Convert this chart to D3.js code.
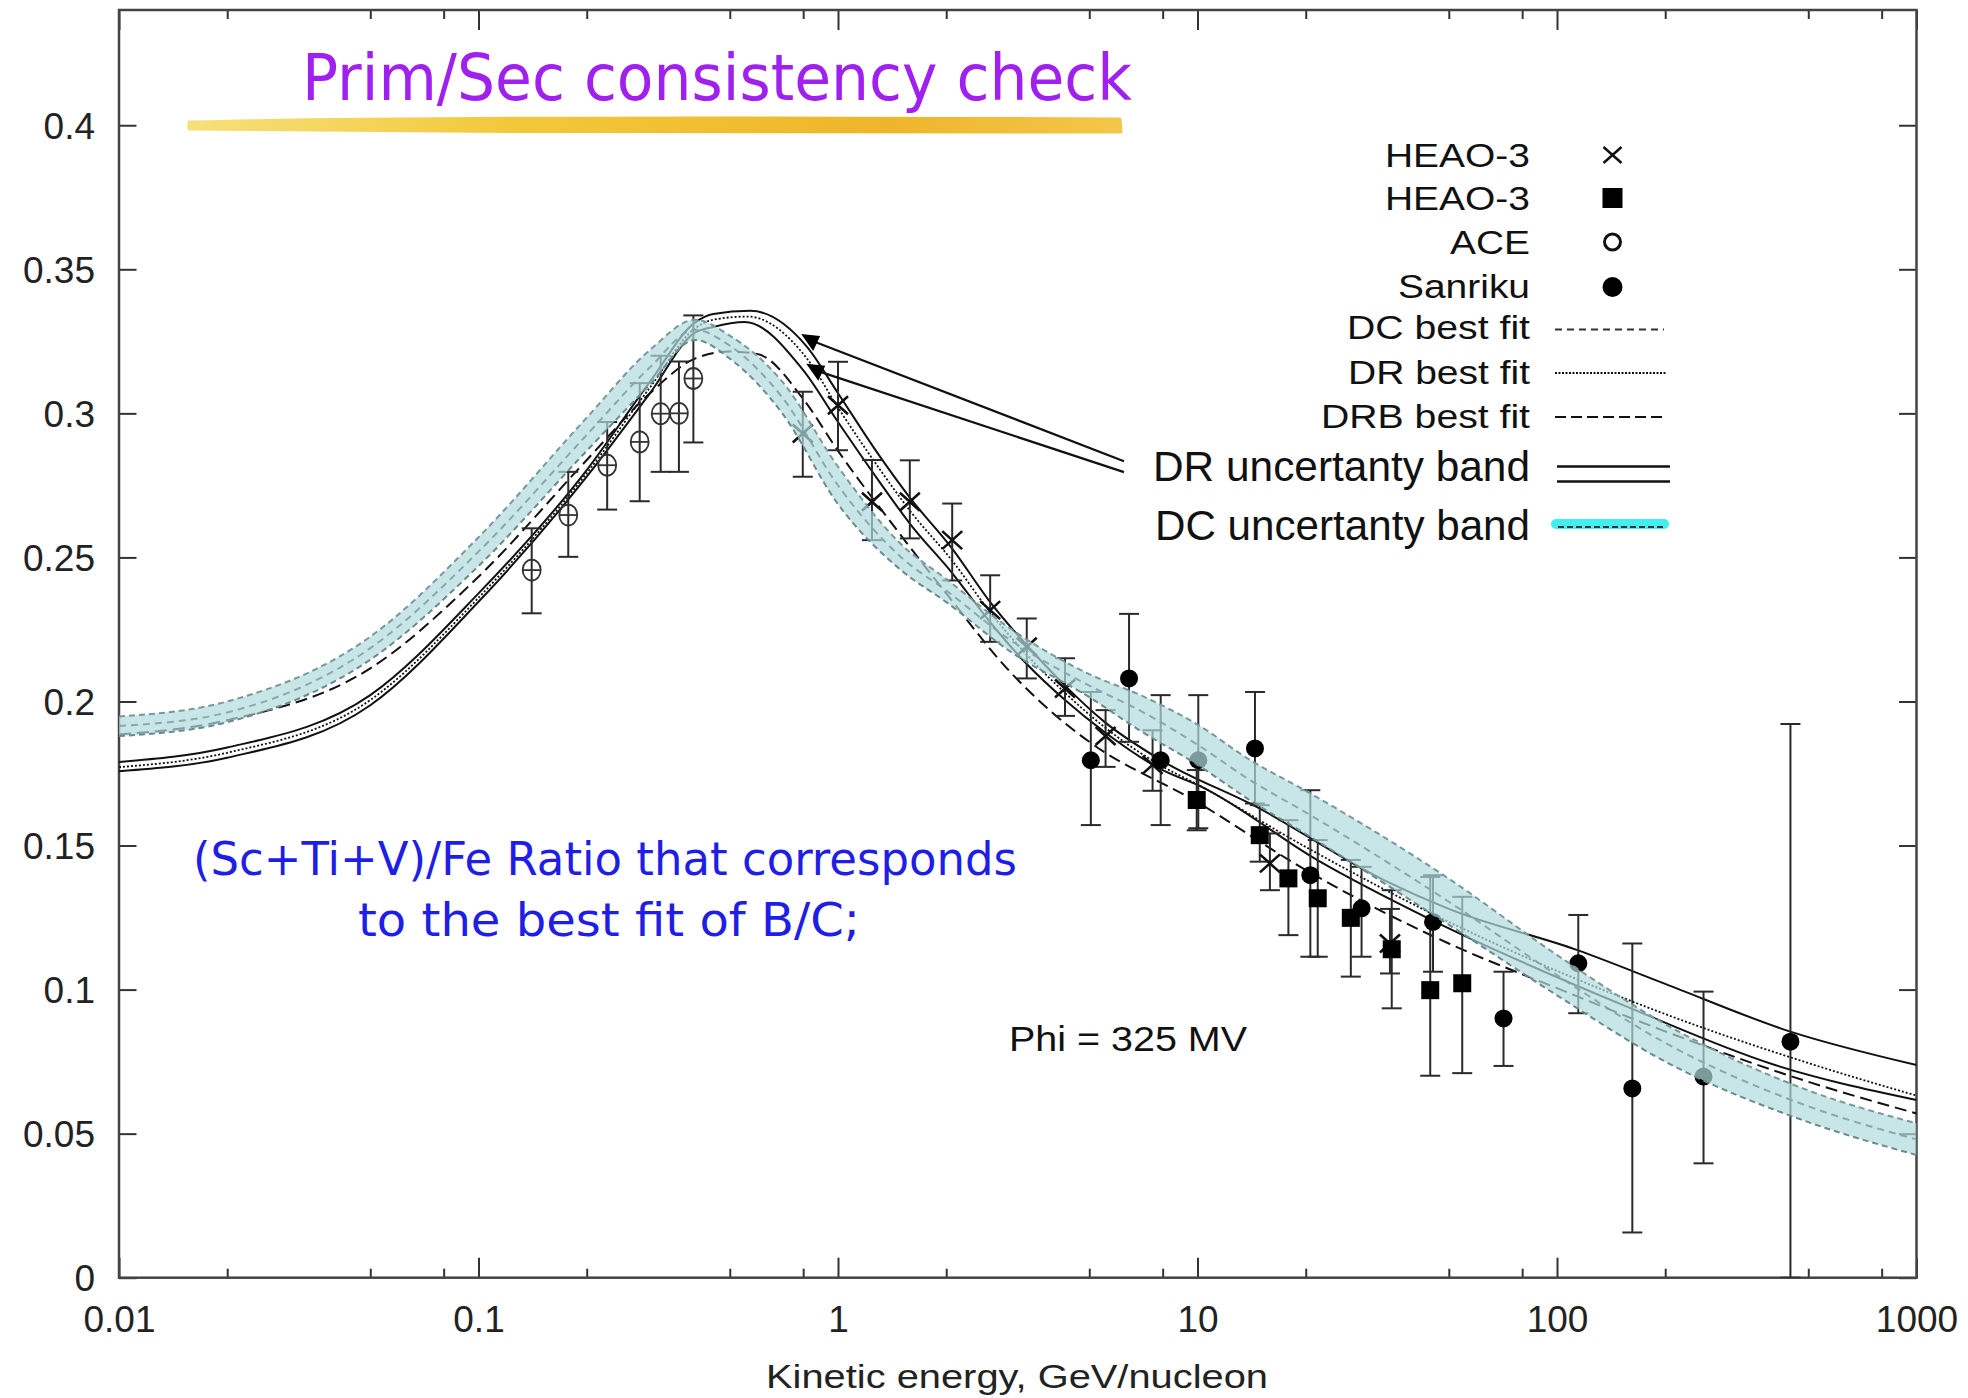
<!DOCTYPE html>
<html>
<head>
<meta charset="utf-8">
<script src="https://cdn.jsdelivr.net/npm/d3@7"></script>
<style>
body{margin:0;background:#fff;}
svg text{font-family:"Liberation Sans",Arial,Helvetica,sans-serif;}
</style>
</head>
<body>
<div></div>
<script>
// ticks
let xMajor = [0.01, 0.1, 1, 10, 100, 1000];
let xMinor = [0.02, 0.05, 0.08, 0.2, 0.5, 0.8, 2, 5, 8, 20, 50, 80, 200, 500, 800];
let yMajor = [0, 0.05, 0.1, 0.15, 0.2, 0.25, 0.3, 0.35, 0.4];

// measurements: [E, ratio, low, high]
let heaoCross = [
  [0.798, 0.293, 0.278, 0.3075], [1.0, 0.3028, 0.2872, 0.3179], [1.243, 0.2693, 0.256, 0.2838],
  [1.584, 0.2693, 0.2566, 0.2837], [2.078, 0.256, 0.242, 0.2687], [2.65, 0.2317, 0.2207, 0.2438],
  [3.35, 0.219, 0.208, 0.2288], [4.28, 0.2045, 0.195, 0.215], [5.55, 0.1880, 0.1773, 0.197],
  [7.5, 0.178, 0.169, 0.19], [15.9, 0.1438, 0.1345, 0.1542], [34.3, 0.116, 0.1056, 0.128]
];
let heaoSquare = [
  [9.95, 0.1658, 0.1553, 0.1762], [14.9, 0.1536, 0.1444, 0.164], [17.9, 0.1386, 0.1189, 0.1588],
  [21.6, 0.1317, 0.1114, 0.1519], [26.7, 0.1249, 0.1045, 0.145], [34.7, 0.114, 0.0935, 0.1345],
  [44.4, 0.0998, 0.0701, 0.1391], [54.5, 0.1022, 0.071, 0.1322]
];
let ace = [
  [0.1406, 0.2456, 0.2306, 0.2601], [0.1777, 0.2647, 0.2502, 0.2797], [0.228, 0.282, 0.2666, 0.297],
  [0.2808, 0.2901, 0.2695, 0.3105], [0.3212, 0.2999, 0.2797, 0.32], [0.361, 0.300, 0.2797, 0.318],
  [0.396, 0.3121, 0.2899, 0.334]
];
let sanriku = [
  [5.05, 0.1796, 0.1571, 0.2033], [6.45, 0.208, 0.186, 0.2304], [7.9, 0.1796, 0.1571, 0.2022],
  [10.05, 0.1796, 0.156, 0.2022], [14.45, 0.1837, 0.1646, 0.2033], [20.6, 0.1397, 0.1114, 0.1692],
  [28.6, 0.1282, 0.1114, 0.1426], [45.2, 0.1235, 0.1062, 0.1397], [71, 0.090, 0.0735, 0.1062],
  [114.6, 0.1091, 0.0918, 0.1259], [162, 0.0657, 0.0157, 0.116], [255.6, 0.0698, 0.0397, 0.0993],
  [446, 0.0819, 0, 0.1922]
];

// model curves: [E, ratio]
let drUpper = [
  [0.01, 0.179], [0.02, 0.184], [0.05, 0.2022], [0.1, 0.2375], [0.2, 0.2803], [0.3, 0.311],
  [0.4, 0.3315], [0.45, 0.3345], [0.57, 0.3356], [0.82, 0.3231], [1.0, 0.307], [1.3, 0.2855],
  [1.59, 0.2705], [2.08, 0.253], [2.65, 0.2345], [3.35, 0.2195], [4.28, 0.2055], [5.5, 0.193],
  [7.9, 0.1797], [14.6, 0.1634], [33, 0.138], [50, 0.128], [114, 0.1137], [200, 0.102],
  [446, 0.0854], [1000, 0.0738]
];
let drLower = [
  [0.01, 0.1758], [0.02, 0.1805], [0.05, 0.1987], [0.1, 0.2346], [0.2, 0.278], [0.3, 0.307],
  [0.4, 0.328], [0.45, 0.330], [0.55, 0.3317], [0.8, 0.315], [1.0, 0.297], [1.3, 0.2765],
  [1.59, 0.2615], [2.08, 0.2445], [2.65, 0.2275], [3.35, 0.213], [4.28, 0.2005], [5.5, 0.1895],
  [7.9, 0.1765], [10.3, 0.1703], [21.5, 0.145], [45, 0.124], [157, 0.094], [400, 0.074],
  [1000, 0.0617]
];
let drBest = [
  [0.01, 0.1772], [0.02, 0.1822], [0.05, 0.2005], [0.1, 0.236], [0.2, 0.2792], [0.3, 0.309],
  [0.4, 0.3295], [0.45, 0.3325], [0.56, 0.3336], [0.82, 0.319], [1.0, 0.302], [1.3, 0.281],
  [1.59, 0.266], [2.08, 0.2488], [2.65, 0.231], [3.35, 0.2162], [4.28, 0.203], [5.5, 0.1912],
  [7.9, 0.1778], [10, 0.1712], [20, 0.1495], [50, 0.1235], [100, 0.1065], [200, 0.0915],
  [500, 0.0745], [1000, 0.0632]
];
let drbBest = [
  [0.01, 0.1885], [0.02, 0.1935], [0.05, 0.2115], [0.1, 0.2433], [0.2, 0.2838], [0.3, 0.307],
  [0.4, 0.319], [0.5, 0.3215], [0.6, 0.3205], [0.8, 0.305], [1.0, 0.287], [1.5, 0.2575],
  [2, 0.2375], [3, 0.2105], [4, 0.1955], [5, 0.186], [10, 0.165], [20, 0.1415], [50, 0.116],
  [100, 0.1005], [200, 0.0855], [500, 0.068], [1000, 0.057]
];
let dcBest = [
  [0.01, 0.1915], [0.02, 0.1962], [0.05, 0.2185], [0.1, 0.252], [0.2, 0.2925], [0.3, 0.316],
  [0.4, 0.329], [0.5, 0.3235], [0.7, 0.3055], [1.0, 0.275], [1.5, 0.25], [2, 0.2385],
  [3, 0.2215], [5, 0.2055], [7, 0.1965], [10, 0.185], [14, 0.1727], [20, 0.1615], [50, 0.1305],
  [100, 0.105], [200, 0.0815], [500, 0.0595], [1000, 0.048]
];
// DC uncertainty band: [E, top, bottom]
let dcBand = [
  [0.01, 0.1948, 0.1880], [0.02, 0.2000, 0.1928], [0.05, 0.2225, 0.2145], [0.1, 0.2570, 0.2470],
  [0.2, 0.2985, 0.2870], [0.3, 0.3220, 0.3100], [0.4, 0.3325, 0.3255], [0.5, 0.3270, 0.3190],
  [0.7, 0.3110, 0.3000], [1.0, 0.2815, 0.2685], [1.5, 0.2545, 0.2455], [2, 0.2425, 0.2345],
  [3, 0.2255, 0.2175], [5, 0.2095, 0.2015], [7, 0.2020, 0.1895], [10, 0.1920, 0.1780],
  [14, 0.1797, 0.1657], [20, 0.1690, 0.1540], [50, 0.1385, 0.1225], [100, 0.1120, 0.0980],
  [200, 0.0880, 0.0750], [500, 0.0650, 0.0540], [1000, 0.0536, 0.0426]
];
// pointer from legend to the DR band: tips and ends [E, ratio]
let pointerTips = [[0.842, 0.3248], [0.87, 0.3144]];
let pointerEnds = [[6.245, 0.2834], [6.245, 0.2796]];

let W = 1968, H = 1398;
let plotLeft = 119, plotRight = 1916.5, plotTop = 10, plotBottom = 1277.7;

let svg = d3.select("body div").append("svg")
  .attr("width", W).attr("height", H)
  .style("display", "block");

svg.append("rect").attr("width", W).attr("height", H).attr("fill", "#fff");

let x = d3.scaleLog().domain([0.01, 1000]).range([plotLeft, plotRight]);
let y = d3.scaleLinear().domain([0, 0.44]).range([plotBottom, plotTop]);

svg.append("clipPath").attr("id", "plot")
  .append("rect").attr("x", plotLeft).attr("y", plotTop)
  .attr("width", plotRight - plotLeft).attr("height", plotBottom - plotTop);

// axes
function styleAxis(g) {
  g.select(".domain").remove();
  g.attr("color", "#333").attr("font-family", "Liberation Sans, Arial, sans-serif").attr("font-size", 37);
  g.selectAll(".tick line").attr("stroke-width", 2);
  g.selectAll(".tick text").attr("fill", "#222");
}
svg.append("g").attr("transform", `translate(0,${plotBottom})`)
  .call(d3.axisBottom(x).tickValues(xMajor).tickSize(-20).tickFormat(d3.format("~g")))
  .call(styleAxis)
  .call(g => g.selectAll("text").attr("y", 54).attr("dy", null));
svg.append("g").attr("transform", `translate(0,${plotBottom})`)
  .call(d3.axisBottom(x).tickValues(xMinor).tickSize(-9).tickFormat(""))
  .call(styleAxis);
svg.append("g").attr("transform", `translate(0,${plotTop})`)
  .call(d3.axisTop(x).tickValues(xMajor).tickSize(-20).tickFormat(""))
  .call(styleAxis);
svg.append("g").attr("transform", `translate(0,${plotTop})`)
  .call(d3.axisTop(x).tickValues(xMinor).tickSize(-9).tickFormat(""))
  .call(styleAxis);
svg.append("g").attr("transform", `translate(${plotLeft},0)`)
  .call(d3.axisLeft(y).tickValues(yMajor).tickSize(-17.5).tickFormat(d3.format("~g")))
  .call(styleAxis)
  .call(g => g.selectAll("text").attr("x", -24).attr("dy", "0.35em"));
svg.append("g").attr("transform", `translate(${plotRight},0)`)
  .call(d3.axisRight(y).tickValues(yMajor).tickSize(-17.5).tickFormat(""))
  .call(styleAxis);

svg.append("rect")
  .attr("x", plotLeft).attr("y", plotTop).attr("width", plotRight - plotLeft).attr("height", plotBottom - plotTop)
  .attr("fill", "none").attr("stroke", "#444").attr("stroke-width", 2.5);

// model curves
let plot = svg.append("g").attr("clip-path", "url(#plot)");
let line = d3.line().x(d => x(d[0])).y(d => y(d[1])).curve(d3.curveMonotoneX);

plot.append("path").datum(dcBest).attr("d", line)
  .attr("fill", "none").attr("stroke", "#333").attr("stroke-width", 2).attr("stroke-dasharray", "7,5");
plot.append("path").datum(drbBest).attr("d", line)
  .attr("fill", "none").attr("stroke", "#111").attr("stroke-width", 2).attr("stroke-dasharray", "12,6");
plot.append("path").datum(drBest).attr("d", line)
  .attr("fill", "none").attr("stroke", "#111").attr("stroke-width", 1.8).attr("stroke-dasharray", "2,2");
[drUpper, drLower].forEach(c => {
  plot.append("path").datum(c).attr("d", line)
    .attr("fill", "none").attr("stroke", "#111").attr("stroke-width", 2);
});

// error bars
let bars = plot.append("g").attr("stroke", "#2a2a2a").attr("stroke-width", 2);
function errorBars(data) {
  data.forEach(d => {
    let cx = x(d[0]);
    bars.append("line").attr("x1", cx).attr("x2", cx).attr("y1", y(d[2])).attr("y2", y(d[3]));
    bars.append("line").attr("x1", cx - 10).attr("x2", cx + 10).attr("y1", y(d[2])).attr("y2", y(d[2]));
    bars.append("line").attr("x1", cx - 10).attr("x2", cx + 10).attr("y1", y(d[3])).attr("y2", y(d[3]));
  });
}
errorBars(ace);
errorBars(heaoCross);
errorBars(heaoSquare);
errorBars(sanriku);

let marks = plot.append("g");
ace.forEach(d => {
  marks.append("ellipse").attr("cx", x(d[0])).attr("cy", y(d[1])).attr("rx", 9).attr("ry", 10.5)
    .attr("fill", "none").attr("stroke", "#333").attr("stroke-width", 1.8);
  marks.append("line").attr("x1", x(d[0]) - 9).attr("x2", x(d[0]) + 9)
    .attr("y1", y(d[1])).attr("y2", y(d[1])).attr("stroke", "#333").attr("stroke-width", 1.8);
});
heaoCross.forEach(d => {
  marks.append("path").attr("transform", `translate(${x(d[0])},${y(d[1])})`)
    .attr("d", "M-10,-9L10,9M-10,9L10,-9").attr("stroke", "#111").attr("stroke-width", 2.6);
});
heaoSquare.forEach(d => {
  marks.append("rect").attr("x", x(d[0]) - 9).attr("y", y(d[1]) - 9).attr("width", 18).attr("height", 18)
    .attr("fill", "#000");
});
sanriku.forEach(d => {
  marks.append("circle").attr("cx", x(d[0])).attr("cy", y(d[1])).attr("r", 9).attr("fill", "#000");
});

// DC uncertainty band, translucent on top, with dashed edges
plot.append("path").datum(dcBand)
  .attr("d", d3.area().x(d => x(d[0])).y0(d => y(d[2])).y1(d => y(d[1])).curve(d3.curveMonotoneX))
  .attr("fill", "#b0dbde").attr("fill-opacity", 0.7);
plot.append("path").datum(dcBand.map(d => [d[0], d[1]])).attr("d", line)
  .attr("fill", "none").attr("stroke", "#7a989c").attr("stroke-width", 2).attr("stroke-dasharray", "6,4");
plot.append("path").datum(dcBand.map(d => [d[0], d[2]])).attr("d", line)
  .attr("fill", "none").attr("stroke", "#6c8a8e").attr("stroke-width", 2).attr("stroke-dasharray", "6,4");

// pointer to DR band
pointerTips.forEach((t, i) => {
  let e = pointerEnds[i];
  svg.append("line").attr("x1", x(t[0]) + 4).attr("y1", y(t[1]))
    .attr("x2", x(e[0])).attr("y2", y(e[1])).attr("stroke", "#111").attr("stroke-width", 2.2);
  svg.append("path").attr("transform", `translate(${x(t[0])},${y(t[1])})`)
    .attr("d", "M-10,-8L9,-6L2,9Z").attr("fill", "#000");
});

// legend
let legend = svg.append("g");
let legendX = 1530, symX = 1612.5;
function legendText(txt, baseline, size, len) {
  legend.append("text").attr("x", legendX).attr("y", baseline).attr("text-anchor", "end")
    .attr("font-size", size).attr("fill", "#111")
    .attr("textLength", len).attr("lengthAdjust", "spacingAndGlyphs").text(txt);
}
legendText("HEAO-3", 166.5, 32.5, 145);
legendText("HEAO-3", 210, 32.5, 145);
legendText("ACE", 254, 32.5, 80);
legendText("Sanriku", 298, 32.5, 132);
legendText("DC best fit", 339, 33, 183);
legendText("DR best fit", 384, 33, 182);
legendText("DRB best fit", 428, 33, 209);
legendText("DR uncertanty band", 481, 43, 377);
legendText("DC uncertanty band", 540, 43, 375);

legend.append("path").attr("transform", `translate(${symX},155)`)
  .attr("d", "M-9,-8L9,8M-9,8L9,-8").attr("stroke", "#111").attr("stroke-width", 2.5);
legend.append("rect").attr("x", symX - 10).attr("y", 188).attr("width", 20).attr("height", 20).attr("fill", "#000");
legend.append("circle").attr("cx", symX).attr("cy", 242).attr("r", 8).attr("fill", "#fff")
  .attr("stroke", "#111").attr("stroke-width", 3);
legend.append("circle").attr("cx", symX).attr("cy", 287).attr("r", 10).attr("fill", "#000");
legend.append("line").attr("x1", 1555).attr("x2", 1664).attr("y1", 329.5).attr("y2", 329.5)
  .attr("stroke", "#333").attr("stroke-width", 2).attr("stroke-dasharray", "7,5");
legend.append("line").attr("x1", 1555).attr("x2", 1666).attr("y1", 373).attr("y2", 373)
  .attr("stroke", "#111").attr("stroke-width", 1.8).attr("stroke-dasharray", "2,1.5");
legend.append("line").attr("x1", 1555).attr("x2", 1666).attr("y1", 417).attr("y2", 417)
  .attr("stroke", "#111").attr("stroke-width", 2).attr("stroke-dasharray", "11,5");
[466.5, 481.5].forEach(v => {
  legend.append("line").attr("x1", 1557).attr("x2", 1670).attr("y1", v).attr("y2", v)
    .attr("stroke", "#111").attr("stroke-width", 2.5);
});
legend.append("line").attr("x1", 1556).attr("x2", 1664).attr("y1", 524).attr("y2", 524)
  .attr("stroke", "#3ef0f0").attr("stroke-width", 10).attr("stroke-linecap", "round");
legend.append("line").attr("x1", 1558).attr("x2", 1664).attr("y1", 527).attr("y2", 527)
  .attr("stroke", "#333").attr("stroke-width", 2).attr("stroke-dasharray", "6,3");

// highlighter stroke and title
let grad = svg.append("defs").append("linearGradient").attr("id", "marker")
  .attr("gradientUnits", "userSpaceOnUse").attr("x1", 187).attr("x2", 1121).attr("y1", 0).attr("y2", 0);
grad.append("stop").attr("offset", "0%").attr("stop-color", "#f6e07a");
grad.append("stop").attr("offset", "35%").attr("stop-color", "#f2c83a");
grad.append("stop").attr("offset", "75%").attr("stop-color", "#efb52a");
grad.append("stop").attr("offset", "100%").attr("stop-color", "#f3c64a");
svg.append("path")
  .attr("d", "M189,122 C400,117 700,117 1120,119 L1121,132 C800,133 500,132 189,129 Z")
  .attr("fill", "url(#marker)").attr("stroke", "url(#marker)").attr("stroke-width", 3)
  .attr("stroke-linejoin", "round");

let comic = "'Comic Sans MS','DejaVu Sans',sans-serif";
svg.append("text").attr("x", 302).attr("y", 100)
  .style("font-family", comic).attr("font-size", 64).attr("fill", "#a020f0")
  .attr("textLength", 830).attr("lengthAdjust", "spacingAndGlyphs")
  .text("Prim/Sec consistency check");

svg.append("text").attr("x", 193).attr("y", 875)
  .style("font-family", comic).attr("font-size", 46).attr("fill", "#1e1ee6")
  .attr("textLength", 824).attr("lengthAdjust", "spacingAndGlyphs")
  .text("(Sc+Ti+V)/Fe Ratio that corresponds");
svg.append("text").attr("x", 358).attr("y", 936)
  .style("font-family", comic).attr("font-size", 46).attr("fill", "#1e1ee6")
  .attr("textLength", 502).attr("lengthAdjust", "spacingAndGlyphs")
  .text("to the best fit of B/C;");

svg.append("text").attr("x", 1009).attr("y", 1051)
  .attr("font-size", 35).attr("fill", "#111")
  .attr("textLength", 238).attr("lengthAdjust", "spacingAndGlyphs")
  .text("Phi = 325 MV");

svg.append("text").attr("x", 1017).attr("y", 1388).attr("text-anchor", "middle")
  .attr("font-size", 33).attr("fill", "#222")
  .attr("textLength", 502).attr("lengthAdjust", "spacingAndGlyphs")
  .text("Kinetic energy, GeV/nucleon");
</script>
</body>
</html>
